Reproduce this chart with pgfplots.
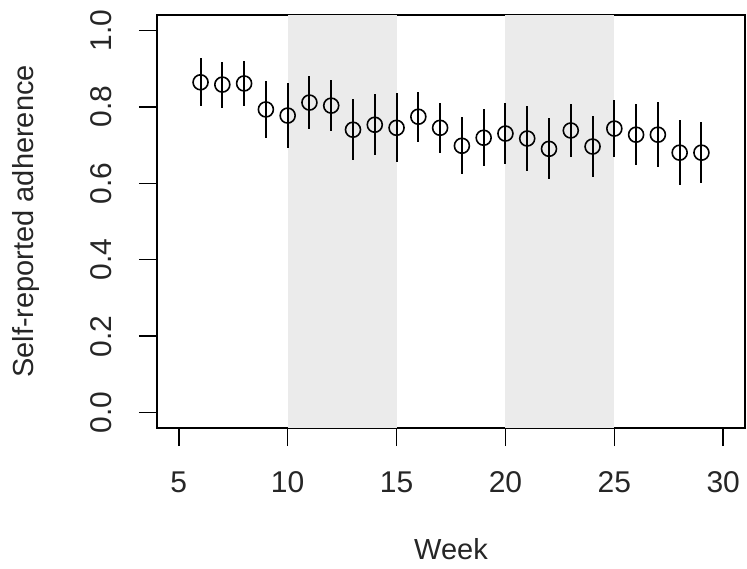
\documentclass[border=0pt]{standalone}
\usepackage{pgfplots}
\pgfplotsset{compat=1.18}
\usepackage{fontspec}
\setmainfont{Liberation Sans}
\begin{document}
\begin{tikzpicture}
\useasboundingbox (-157pt,-141pt) rectangle (590pt,428pt);
\begin{axis}[
  at={(0,0)}, anchor=south west,
  scale only axis, width=588pt, height=413pt,
  xmin=4, xmax=31, ymin=-0.04, ymax=1.04,
  axis line style={line width=1.5pt},
  xtick={5,10,...,30}, ytick={0,0.2,...,1.0},
  /pgf/number format/assume math mode=true,
  tick align=outside, major tick length=18pt,
  tick style={line width=1.5pt, black},
  xtick pos=bottom, ytick pos=left,
  ticklabel style={font=\fontsize{30}{34}\selectfont, text=black!85},
  xticklabel style={anchor=center, yshift=-36pt},
  yticklabel style={rotate=90, anchor=center, yshift=38pt, /pgf/number format/fixed, /pgf/number format/precision=1, /pgf/number format/fixed zerofill},
  xlabel={Week}, ylabel={Self-reported adherence},
  label style={font=\fontsize{29}{34}\selectfont, text=black!85},
  xlabel style={at={(axis description cs:0.5,-0.293)}, anchor=center},
  ylabel style={at={(axis description cs:-0.222,0.5)}, anchor=center},
  clip=true,
]
\fill[black!8] (axis cs:10,-0.04) rectangle (axis cs:15,1.04);
\fill[black!8] (axis cs:20,-0.04) rectangle (axis cs:25,1.04);
\addplot[only marks, mark=o, mark size=7.5pt, line width=1.6pt, black,
  error bars/.cd, y dir=both, y explicit, error mark=none,
  error bar style={line width=2pt, black}]
coordinates {
(6,0.864) +- (0,0.063)
(7,0.858) +- (0,0.060)
(8,0.861) +- (0,0.058)
(9,0.793) +- (0,0.075)
(10,0.777) +- (0,0.085)
(11,0.811) +- (0,0.070)
(12,0.803) +- (0,0.067)
(13,0.740) +- (0,0.080)
(14,0.753) +- (0,0.080)
(15,0.745) +- (0,0.090)
(16,0.774) +- (0,0.065)
(17,0.745) +- (0,0.065)
(18,0.698) +- (0,0.075)
(19,0.719) +- (0,0.075)
(20,0.730) +- (0,0.080)
(21,0.717) +- (0,0.085)
(22,0.690) +- (0,0.080)
(23,0.738) +- (0,0.070)
(24,0.696) +- (0,0.080)
(25,0.743) +- (0,0.075)
(26,0.727) +- (0,0.080)
(27,0.727) +- (0,0.085)
(28,0.680) +- (0,0.085)
(29,0.680) +- (0,0.080)
};
\end{axis}
\end{tikzpicture}
\end{document}
